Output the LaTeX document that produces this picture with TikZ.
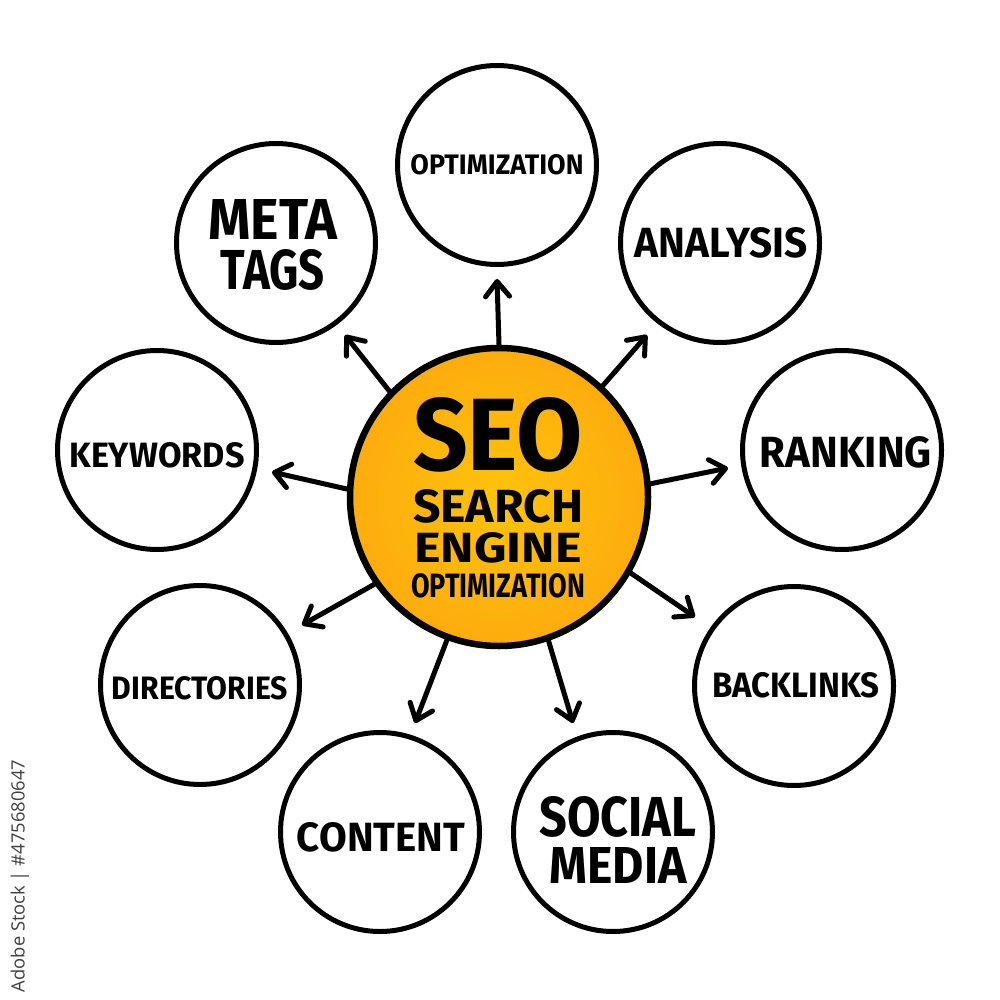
\documentclass[tikz,border=0pt]{standalone}
\usepackage{fontspec}
\setmainfont{Fira Sans}
\newfontfamily\wmfont{Open Sans}
\usepackage{graphicx}
\usetikzlibrary{arrows.meta}
\definecolor{seoyellow}{HTML}{FFC20A}
\definecolor{seomid}{HTML}{FCAA0E}
\definecolor{seoorange}{HTML}{F8980F}
\definecolor{wmgray}{HTML}{404040}
\pgfdeclareradialshading{seoglow}{\pgfpoint{0bp}{0bp}}{color(0bp)=(seoyellow); color(28bp)=(seomid); color(50bp)=(seoorange); color(100bp)=(seoorange)}
\newcommand{\fitw}[3]{\resizebox{#1pt}{#2pt}{\bfseries #3}}
\tikzset{
  topic/.style={circle, draw=black, line width=5pt, minimum size=199pt, inner sep=0pt, fill=white},
  hub/.style={circle, draw=black, line width=6.5pt, minimum size=298pt, inner sep=0pt, shading=seoglow},
  txt/.style={inner sep=0pt, align=center, text=black},
  link/.style={line width=5pt, line cap=round, -{Straight Barb[length=15pt,width=24pt,line width=5pt,round]}}
}
\begin{document}
\begin{tikzpicture}[x=1pt,y=-1pt]
\useasboundingbox[fill=white] (0,0) rectangle (1000,1000);
% hub
\node[hub] (hub) at (499,497) {};
\node[txt] (hubT) at (498,498) {\fitw{170}{73}{SEO}\\[16pt]\fitw{170}{33}{SEARCH}\\[8pt]\fitw{167}{30}{ENGINE}\\[10pt]\fitw{174}{24}{OPTIMIZATION}};
% topics
\node[topic] (opt)  at (497,165) {};
\node[topic] (ana)  at (720,243) {};
\node[topic] (rank) at (842,450) {};
\node[topic] (back) at (794,686) {};
\node[topic] (soc)  at (613,832) {};
\node[topic] (cont) at (380,832) {};
\node[topic] (dir)  at (200,685) {};
\node[topic] (key)  at (157,450) {};
\node[topic] (meta) at (276,243) {};
% labels
\node[txt] (optT)  at (497,165) {\fitw{173}{20}{OPTIMIZATION}};
\node[txt] (anaT)  at (721,243) {\fitw{173}{30}{ANALYSIS}};
\node[txt] (rankT) at (846,452) {\fitw{172}{31}{RANKING}};
\node[txt] (backT) at (796,685) {\fitw{167}{25}{BACKLINKS}};
\node[txt] (socT)  at (618,840) {\fitw{157}{40}{SOCIAL}\\[9pt]\fitw{137}{36}{MEDIA}};
\node[txt] (contT) at (381,837) {\fitw{168}{29}{CONTENT}};
\node[txt] (dirT)  at (200,688) {\fitw{176}{23}{DIRECTORIES}};
\node[txt] (keyT)  at (157,455) {\fitw{175}{25}{KEYWORDS}};
\node[txt] (metaT) at (273,245) {\fitw{129}{40}{META}\\[9pt]\fitw{104}{40}{TAGS}};
% arrow tips
\coordinate (tOpt)  at (497,279);
\coordinate (tAna)  at (647,335);
\coordinate (tRank) at (728,468);
\coordinate (tBack) at (695,617);
\coordinate (tSoc)  at (573,723);
\coordinate (tCont) at (415,723);
\coordinate (tDir)  at (302,625);
\coordinate (tKey)  at (272,472);
\coordinate (tMeta) at (345,335);
\draw[link] (hub.90)   -- (tOpt);
\draw[link] (hub.47)   -- (tAna);
\draw[link] (hub.5)    -- (tRank);
\draw[link] (hub.-30)  -- (tBack);
\draw[link] (hub.-71)  -- (tSoc);
\draw[link] (hub.-110) -- (tCont);
\draw[link] (hub.-145) -- (tDir);
\draw[link] (hub.177)  -- (tKey);
\draw[link] (hub.136)  -- (tMeta);
% watermark
\node[rotate=90, text=wmgray, inner sep=0pt, font=\wmfont] (wm) at (20,876) {\resizebox{232pt}{!}{Adobe Stock | \#475680647}};
\end{tikzpicture}
\end{document}
